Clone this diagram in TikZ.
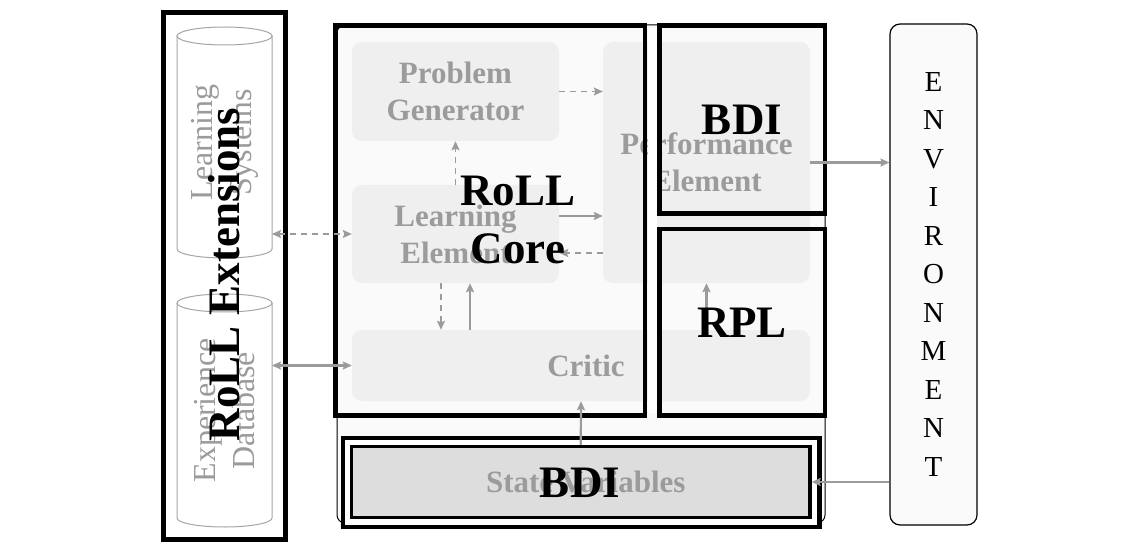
\documentclass[tikz,border=0pt]{standalone}
\usepackage{fontspec}
\setmainfont{Liberation Serif}
\usetikzlibrary{arrows.meta}
\definecolor{gtext}{RGB}{155,155,155}
\definecolor{garrow}{RGB}{155,155,155}
\definecolor{gfill}{RGB}{239,239,239}
\definecolor{cfill}{RGB}{250,250,250}
\definecolor{sfill}{RGB}{221,221,221}
\definecolor{cylline}{RGB}{165,165,165}
\begin{document}
\begin{tikzpicture}[x=1pt,y=-1pt,
  >={Stealth[length=9pt,width=8pt,inset=1.5pt]},
  gbox/.style={fill=gfill, rounded corners=10pt, inner sep=0pt, text=gtext,
    font=\fontsize{31}{37}\selectfont\bfseries, align=center},
  bigtext/.style={font=\fontsize{45}{58}\selectfont\bfseries, align=center, inner sep=0pt},
  thickbox/.style={draw=black, line width=4.5pt},
  cyl/.style={draw=cylline, line width=1pt, fill=white},
  cyltext/.style={text=gtext, font=\fontsize{32}{39}\selectfont, align=center, inner sep=0pt},
  sarrow/.style={draw=garrow, line width=2.2pt},
  darrow/.style={draw=garrow, line width=1.5pt, dash pattern=on 6pt off 5pt},
  ghost/.style={inner sep=0pt, outer sep=0pt}
]
\useasboundingbox (0,0) rectangle (1142,553);

% ---- left block: RoLL Extensions
\draw[line width=5pt] (163.5,12.5) rectangle (285.5,539);
\node[ghost, minimum width=95pt, minimum height=231pt] (ls) at (224.5,142.5) {};
\node[ghost, minimum width=95pt, minimum height=233pt] (ed) at (224.5,410.5) {};
\draw[cyl] ([yshift=-9pt]ls.north west) -- ([yshift=9pt]ls.south west)
  arc[start angle=180,end angle=360,x radius=47.5pt,y radius=9pt] -- ([yshift=-9pt]ls.north east) -- cycle;
\draw[cyl] ([yshift=-9pt]ls.north) ellipse[x radius=47.5pt, y radius=9pt];
\draw[cyl] ([yshift=-9pt]ed.north west) -- ([yshift=9pt]ed.south west)
  arc[start angle=180,end angle=360,x radius=47.5pt,y radius=9pt] -- ([yshift=-9pt]ed.north east) -- cycle;
\draw[cyl] ([yshift=-9pt]ed.north) ellipse[x radius=47.5pt, y radius=9pt];
\node[cyltext, rotate=90] (lstext) at (ls) {Learning\\Systems};
\node[cyltext, rotate=90] (edtext) at (ed) {Experience\\Database};

% ---- middle container
\filldraw[fill=cfill, draw=black, line width=1pt, rounded corners=8pt] (337,25) rectangle (825,523);
\node[gbox, minimum width=207pt, minimum height=99pt] (pg) at (455.5,91.5) {Problem\\Generator};
\node[gbox, minimum width=207pt, minimum height=98pt] (le) at (455.5,234) {Learning\\Element};
\node[gbox, minimum width=207pt, minimum height=241pt] (pe) at (706.5,162.5) {Performance\\Element};
\node[gbox, minimum width=458pt, minimum height=71pt] (critic) at (581,365.5) {\hspace*{10pt}Critic};
\fill[white] (647.5,28) rectangle (657,413);

\draw[thickbox] (335.5,25.5) rectangle (645,415.5);
\draw[thickbox] (659.5,25.5) rectangle (825,213.5);
\draw[thickbox] (659.5,229) rectangle (825,415.5);

\node[draw, line width=4.5pt, fill=white, minimum width=476.5pt, minimum height=89pt, inner sep=0pt] (bdibox) at (581.25,482.5) {};
\node[draw, line width=3.5pt, fill=sfill, minimum width=458.5pt, minimum height=71pt, inner sep=0pt,
  text=gtext, font=\fontsize{31}{37}\selectfont\bfseries] (sv) at (580.75,482) {\hspace*{10pt}State Variables};

% ---- environment
\node[draw, line width=1.2pt, rounded corners=10pt, fill=cfill, minimum width=87pt, minimum height=501pt,
  align=center, font=\fontsize{29}{38.5}\selectfont, inner sep=0pt] (env) at (933.5,274.5)
  {E\\N\\V\\I\\R\\O\\N\\M\\E\\N\\T};

% ---- connectors
\draw[darrow,->] (pg.east) -- (pg.east -| pe.west);
\draw[darrow,->] (le.north) -- (pg.south);
\draw[sarrow,->] ([yshift=18pt]le.east) -- ([yshift=18pt]le.east -| pe.west);
\draw[darrow,->] ([yshift=-19pt]le.east -| pe.west) -- ([yshift=-19pt]le.east);
\draw[darrow,->] ([xshift=-14.5pt]le.south) -- ([xshift=-14.5pt]le.south |- critic.north);
\draw[sarrow,->] ([xshift=14.5pt]le.south |- critic.north) -- ([xshift=14.5pt]le.south);
\draw[sarrow,->] (sv.north) -- (critic.south);
\draw[sarrow,->] (critic.north -| pe.south) -- (pe.south);
\draw[sarrow,->] (pe.east) -- (pe.east -| env.west);
\draw[sarrow,->] (env.west |- sv.east) -- (sv.east);
\draw[darrow,<->] (ls.east |- le.west) -- (le.west);
\draw[sarrow,<->] (ed.east |- critic.west) -- (critic.west);

% ---- big labels
\node[bigtext] (coretext) at (518,220) {RoLL\\Core};
\node[bigtext] (bditop) at (742,119.5) {BDI};
\node[bigtext] (rpltext) at (742,322.5) {RPL};
\node[bigtext] (bdibot) at (580,482.5) {BDI};
\node[bigtext, rotate=90] (exttext) at (224,274.5) {RoLL Extensions};
\end{tikzpicture}
\end{document}
